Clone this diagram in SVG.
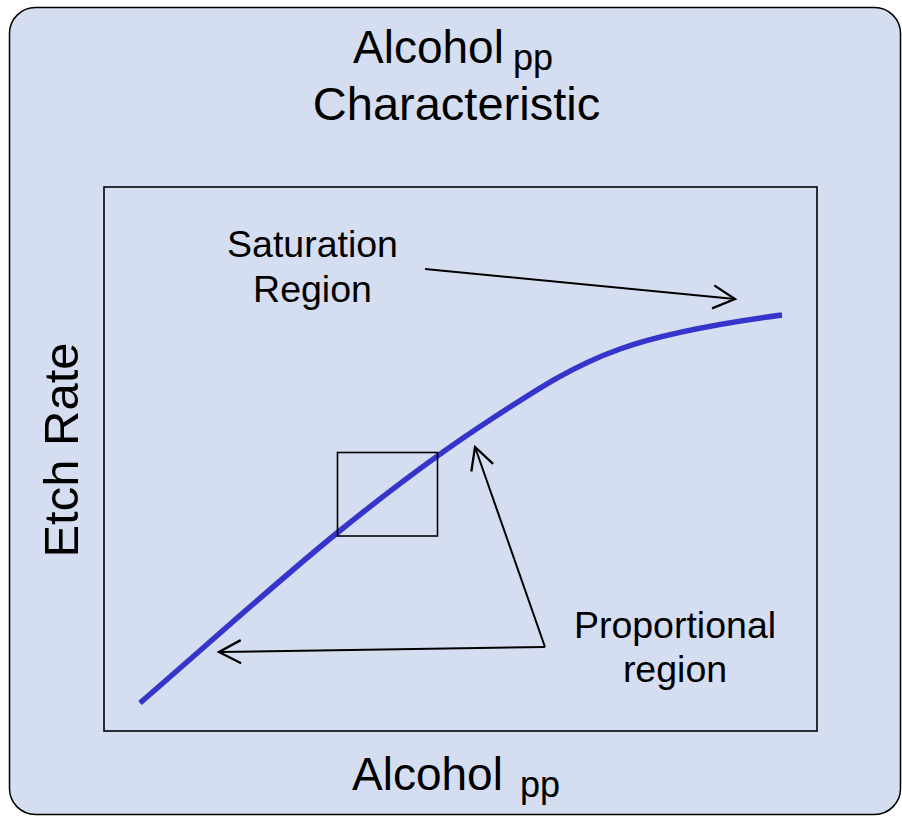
<svg xmlns="http://www.w3.org/2000/svg" width="902" height="816" viewBox="0 0 902 816">
<style>
text{font-family:"Liberation Sans",Arial,sans-serif;fill:#000}
.frame{fill:none;stroke:#000;stroke-width:1.6}
.conn{fill:none;stroke:#000;stroke-width:2}
</style>
<defs>
<marker id="open" markerUnits="userSpaceOnUse" markerWidth="30" markerHeight="30" viewBox="-22 -12 26 24" refX="0" refY="0" orient="auto">
<path d="M-19,-10 L0,0 L-19,10" fill="none" stroke="#000" stroke-width="2"/>
</marker>
</defs>
<rect x="9.5" y="7.5" width="891" height="807" rx="26" ry="26" fill="#D5DEF0" stroke="#000" stroke-width="1.5"/>
<g id="title">
<text x="353" y="63" font-size="46">Alcohol</text>
<text x="513" y="70" font-size="36">pp</text>
<text x="456.5" y="120" font-size="47" text-anchor="middle">Characteristic</text>
</g>
<g id="plot">
<rect class="frame" x="104" y="187" width="713" height="544"/>
</g>
<g id="curve">
<path d="M140,703 C205.7,646.3 278.7,580.2 337,533 C395.3,485.8 442.8,450.7 490,420 C537.2,389.3 571.3,366.5 620,349 C668.7,331.5 732,321.7 782,315" fill="none" stroke="#3535CC" stroke-width="5.5"/>
</g>
<g id="zoom-box">
<rect class="frame" x="337.5" y="452.5" width="100" height="83.5"/>
</g>
<g id="saturation-label">
<text x="312.5" y="257" font-size="37.5" text-anchor="middle">Saturation</text>
<text x="312.5" y="302" font-size="37.5" text-anchor="middle">Region</text>
</g>
<g id="proportional-label">
<text x="675" y="638" font-size="37.5" text-anchor="middle">Proportional</text>
<text x="675" y="682" font-size="37.5" text-anchor="middle">region</text>
</g>
<g id="y-label">
<text x="0" y="0" font-size="49" text-anchor="middle" transform="translate(78,450) rotate(-90)">Etch Rate</text>
</g>
<g id="x-label">
<text x="352" y="790" font-size="46">Alcohol</text>
<text x="520" y="797" font-size="36">pp</text>
</g>
<g id="connectors">
<line class="conn" x1="425" y1="269" x2="735" y2="299" marker-end="url(#open)"/>
<line class="conn" x1="545" y1="647" x2="475" y2="447" marker-end="url(#open)"/>
<line class="conn" x1="545" y1="647" x2="219" y2="652" marker-end="url(#open)"/>
</g>
</svg>
